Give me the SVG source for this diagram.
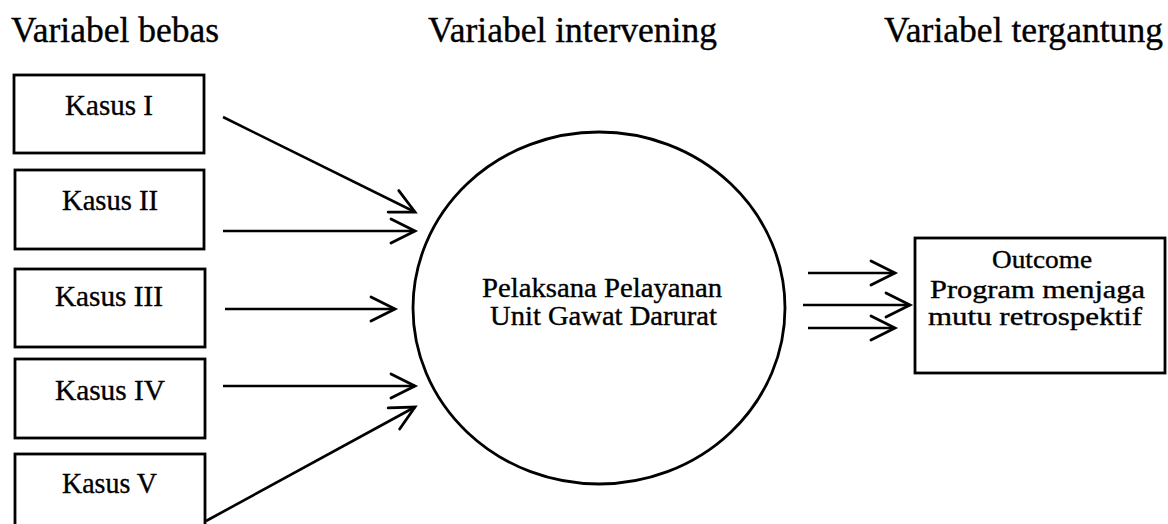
<svg xmlns="http://www.w3.org/2000/svg" width="1168" height="524" viewBox="0 0 1168 524">
<style>
  text { fill: #000; stroke: #000; stroke-width: 0.35; }
  .hdr { font-size: 35px; }
  .lbl { font-size: 29px; }
  .mid { font-size: 27px; }
  .out { font-size: 25px; }
  .box { fill: #fff; stroke: #000; stroke-width: 2.8; }
  .circ { fill: #fff; stroke: #000; stroke-width: 2.8; }
  .conn { fill: none; stroke: #000; stroke-width: 2.6; marker-end: url(#arr); }
</style>
<defs>
  <marker id="arr" markerUnits="userSpaceOnUse" viewBox="-30 -15 34 30" refX="0" refY="0" markerWidth="34" markerHeight="30" orient="auto" overflow="visible">
    <path d="M -24 -12 L 0 0 L -24 12" fill="none" stroke="#000" stroke-width="2.8" stroke-linecap="round" stroke-linejoin="miter"/>
  </marker>
</defs>
<rect width="1168" height="524" fill="#fff"/>

<g id="headers" font-family="'Liberation Serif', 'Times New Roman', Times, serif">
  <text class="hdr" x="11" y="42" textLength="208" lengthAdjust="spacingAndGlyphs">Variabel bebas</text>
  <text class="hdr" x="428" y="42" textLength="289" lengthAdjust="spacingAndGlyphs">Variabel intervening</text>
  <text class="hdr" x="884" y="42" textLength="279" lengthAdjust="spacingAndGlyphs">Variabel tergantung</text>
</g>

<g id="kasus1" font-family="'Liberation Serif', 'Times New Roman', Times, serif">
  <rect class="box" x="14" y="75" width="190" height="78"/>
  <text class="lbl" x="65" y="115" textLength="88" lengthAdjust="spacingAndGlyphs">Kasus I</text>
</g>
<g id="kasus2" font-family="'Liberation Serif', 'Times New Roman', Times, serif">
  <rect class="box" x="15" y="170" width="189" height="79"/>
  <text class="lbl" x="62" y="210" textLength="96" lengthAdjust="spacingAndGlyphs">Kasus II</text>
</g>
<g id="kasus3" font-family="'Liberation Serif', 'Times New Roman', Times, serif">
  <rect class="box" x="15" y="269" width="190" height="78"/>
  <text class="lbl" x="55" y="306" textLength="108" lengthAdjust="spacingAndGlyphs">Kasus III</text>
</g>
<g id="kasus4" font-family="'Liberation Serif', 'Times New Roman', Times, serif">
  <rect class="box" x="15" y="359" width="190" height="79"/>
  <text class="lbl" x="55" y="400" textLength="110" lengthAdjust="spacingAndGlyphs">Kasus IV</text>
</g>
<g id="kasus5" font-family="'Liberation Serif', 'Times New Roman', Times, serif">
  <rect class="box" x="15" y="454" width="190" height="80"/>
  <text class="lbl" x="62" y="493" textLength="95" lengthAdjust="spacingAndGlyphs">Kasus V</text>
</g>

<g id="pelaksana" font-family="'Liberation Serif', 'Times New Roman', Times, serif">
  <ellipse class="circ" cx="599" cy="308" rx="186" ry="176"/>
  <text class="mid" x="482" y="297" textLength="240" lengthAdjust="spacingAndGlyphs">Pelaksana Pelayanan</text>
  <text class="mid" x="490" y="325" textLength="227" lengthAdjust="spacingAndGlyphs">Unit Gawat Darurat</text>
</g>

<g id="outcome" font-family="'Liberation Serif', 'Times New Roman', Times, serif">
  <rect class="box" x="915" y="238" width="250" height="135"/>
  <text class="out" x="992" y="268" textLength="100" lengthAdjust="spacingAndGlyphs">Outcome</text>
  <text class="out" x="930" y="298" textLength="215" lengthAdjust="spacingAndGlyphs">Program menjaga</text>
  <text class="out" x="928" y="325" textLength="214" lengthAdjust="spacingAndGlyphs">mutu retrospektif</text>
</g>

<g id="connectors">
  <line class="conn" x1="223" y1="117" x2="415" y2="212"/>
  <line class="conn" x1="223" y1="231" x2="415" y2="231"/>
  <line class="conn" x1="225" y1="309" x2="395" y2="309"/>
  <line class="conn" x1="223" y1="386" x2="415" y2="386"/>
  <line class="conn" x1="206" y1="521" x2="415" y2="407"/>
  <line class="conn" x1="808" y1="273" x2="895" y2="273"/>
  <line class="conn" x1="803" y1="305" x2="910" y2="305"/>
  <line class="conn" x1="808" y1="328" x2="895" y2="328"/>
</g>
</svg>
